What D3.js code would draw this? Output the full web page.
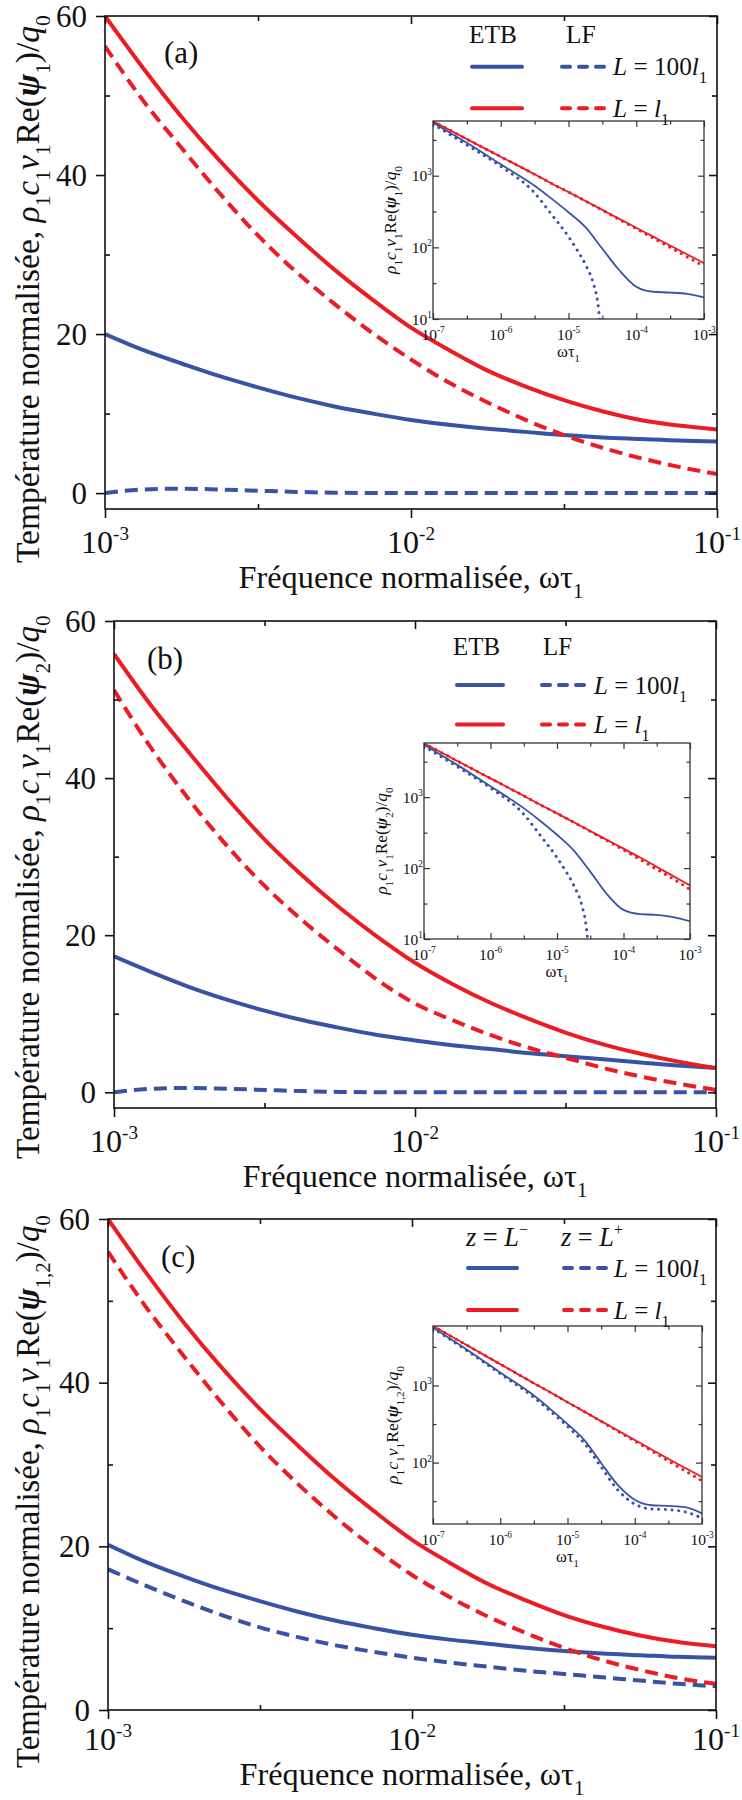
<!DOCTYPE html>
<html><head><meta charset="utf-8">
<script src="https://cdn.jsdelivr.net/npm/d3@7"></script>
<style>
body{margin:0;background:#fff}
svg{display:block}
text{font-family:"Liberation Serif","Times New Roman",serif;fill:#111}
</style>
</head><body>
<svg id="chart" width="742" height="1800"></svg>
<script>
// ---------------- DATA ----------------
// main panels: normalised frequency (omega*tau1)
const omega = [0.001,0.00133,0.00178,0.00237,0.00316,0.00422,0.00562,0.0075,0.01,0.0133,0.0178,0.0237,0.0316,0.0422,0.0562,0.075,0.1];
const xTickExps = [-3,-2,-1];
const yTicks = [0,20,40,60];
const yMinorTicks = [10,30,50];

// panel (a)  psi1
const aEtbL100 = [20.0,18.0,16.3,14.7,13.3,12.0,10.9,10.0,9.2,8.6,8.1,7.7,7.3,7.0,6.8,6.6,6.5];
const aEtbL1   = [60.0,53.5,47.3,41.8,36.8,32.3,28.1,24.3,20.8,18.0,15.4,13.4,11.7,10.3,9.2,8.5,8.0];
const aLfL100  = [0.0,0.45,0.55,0.45,0.3,0.15,0.05,0,0,0,0,0,0,0,0,0,0];
const aLfL1    = [56.2,49.4,43.4,37.7,32.4,27.8,23.8,20.1,16.8,13.9,11.4,9.2,7.3,5.7,4.4,3.3,2.4];
// panel (b)  psi2
const bEtbL100 = [17.3,15.3,13.4,11.8,10.4,9.2,8.2,7.3,6.6,6.0,5.5,5.0,4.6,4.2,3.8,3.4,3.1];
const bEtbL1   = [55.8,49.2,43.2,37.5,32.2,27.6,23.5,19.8,16.5,13.8,11.4,9.4,7.6,6.1,4.9,3.9,3.1];
const bLfL100  = [0.0,0.45,0.55,0.45,0.3,0.15,0.05,0,0,0,0,0,0,0,0,0,0];
const bLfL1    = [51.2,43.8,37.2,31.4,26.3,21.9,18.0,14.3,11.3,9.2,7.3,5.7,4.4,3.1,2.0,1.1,0.3];
// panel (c)  psi1,2 at z = L- and z = L+
const cMinusL100 = [20.2,18.1,16.3,14.7,13.3,12.0,10.9,10.0,9.2,8.6,8.1,7.6,7.2,6.9,6.7,6.5,6.4];
const cMinusL1   = [60.0,53.5,47.3,41.8,36.8,32.3,28.1,24.3,20.8,18.0,15.4,13.4,11.6,10.2,9.1,8.3,7.8];
const cPlusL100  = [17.2,15.2,13.3,11.6,10.1,8.9,7.9,7.1,6.4,5.8,5.3,4.8,4.4,4.0,3.6,3.2,2.9];
const cPlusL1    = [56.0,49.3,43.2,37.5,32.2,27.6,23.5,19.8,16.5,13.8,11.4,9.4,7.6,6.1,4.9,3.9,3.2];

// insets: log-log
const insetOmega   = [1e-7,3.16e-7,1e-6,3.16e-6,5.62e-6,1e-5,1.78e-5,3.16e-5,5.62e-5,1e-4,1.78e-4,3.16e-4,5.62e-4,1e-3];
const insetOmegaLF = [1e-7,3.16e-7,1e-6,3.16e-6,5.62e-6,1e-5,1.33e-5,1.78e-5,2.37e-5,2.69e-5,2.88e-5,3.02e-5];
const insetXTickExps = [-7,-6,-5,-4,-3];

const aInEtbL100 = [5500,2880,1445,725,479,309,191,95.5,47.9,28.2,24.0,23.4,22.4,20.0];
const aInEtbL1   = [5750,3240,1840,1045,780,590,443,333,250,188,141,106,80,60];
const aInLfL1    = [5750,3240,1840,1045,780,590,443,330,245,182,135,100,74,54];
const aInLfL100  = [5250,2690,1350,575,288,141,93,57.5,29.5,17.4,10,6.3];

const bInEtbL100 = [5500,2850,1420,700,462,295,178,89,43,25.7,22.4,21.9,20.4,17.8];
const bInEtbL1   = [5750,3240,1840,1045,780,590,443,333,250,188,141,104,77,57];
const bInLfL1    = [5750,3240,1840,1045,780,590,443,330,245,180,132,96,70,50];
const bInLfL100  = [5250,2690,1350,575,288,141,93,57.5,29.5,17.4,10,6.3];

const cInMinusL100 = [5600,2930,1470,740,490,316,196,99,51,33,28,27.5,26.5,22];
const cInMinusL1   = [5900,3340,1890,1070,810,607,458,345,260,196,148,112,85,65];
const cInPlusL1    = [5900,3340,1890,1070,810,607,458,342,255,190,142,105,78,58];
const cInPlusL100  = [5500,2850,1420,700,460,295,178,88,44,29,25,24.5,23,19];

// ---------------- STYLE ----------------
const BLUE = "#3953a4", RED = "#ec1c24";
const svg = d3.select("#chart");

function rich(sel, parts, size) {
  let shift = 0;
  parts.forEach(p => {
    const ts = sel.append("tspan").text(p.t);
    let target = 0, fs = size;
    if (p.sub) { target = size * 0.32; fs = size * 0.64; }
    if (p.sup) { target = -size * 0.42; fs = size * 0.6; }
    ts.attr("font-size", fs);
    if (target !== shift) { ts.attr("dy", target - shift); shift = target; }
    if (p.i) ts.attr("font-style", "italic");
    if (p.b) ts.attr("font-weight", "bold");
  });
}
// draw rich text with a font size chosen so that the rendered length equals `len`
function richFit(sel, parts, size, len) {
  rich(sel, parts, size);
  const cur = sel.node().getComputedTextLength();
  let s = size;
  if (cur > 0) { s = size * len / cur; sel.selectAll("tspan").remove(); rich(sel, parts, s); }
  return s;
}

function yLabelParts(psiSub) {
  return [
    {t:"Température normalisée, "},
    {t:"ρ", i:1},{t:"1", sub:1},
    {t:"c", i:1},{t:"1", sub:1},
    {t:"v", i:1},{t:"1", sub:1},
    {t:"Re("},{t:"ψ", i:1, b:1},{t:psiSub, sub:1},
    {t:")/"},{t:"q", i:1},{t:"0", sub:1}
  ];
}
function insetYParts(psiSub) {
  return [
    {t:"ρ", i:1},{t:"1", sub:1},
    {t:"c", i:1},{t:"1", sub:1},
    {t:"v", i:1},{t:"1", sub:1},
    {t:"Re("},{t:"ψ", i:1, b:1},{t:psiSub, sub:1},
    {t:")/"},{t:"q", i:1},{t:"0", sub:1}
  ];
}

let clipId = 0;
function drawPanel(cfg) {
  const g = svg.append("g");
  const x = d3.scaleLog().domain([1e-3, 1e-1]).range([cfg.l, cfg.r]);
  const y = d3.scaleLinear().domain(cfg.yDom).range([cfg.b, cfg.t]);
  const cid = "clip" + (clipId++);
  g.append("clipPath").attr("id", cid).append("rect")
    .attr("x", cfg.l).attr("y", cfg.t).attr("width", cfg.r - cfg.l).attr("height", cfg.b - cfg.t);

  const line = d3.line().x((d, i) => x(omega[i])).y(d => y(d)).curve(d3.curveMonotoneX);
  const cg = g.append("g").attr("clip-path", `url(#${cid})`);
  cfg.series.forEach(s => {
    cg.append("path").datum(s.v).attr("d", line)
      .attr("fill", "none").attr("stroke", s.c).attr("stroke-width", 4)
      .attr("stroke-dasharray", s.dash ? "13,7" : null);
  });

  drawInset(g, cfg.inset);

  g.append("rect").attr("x", cfg.l).attr("y", cfg.t).attr("width", cfg.r - cfg.l).attr("height", cfg.b - cfg.t)
    .attr("fill", "none").attr("stroke", "#111").attr("stroke-width", 1.6);

  const majorX = xTickExps.map(e => Math.pow(10, e));
  const minorX = [Math.pow(10, -2.5), Math.pow(10, -1.5)];
  const styleAxis = sel => { sel.select(".domain").remove(); sel.selectAll("line").attr("stroke", "#111").attr("stroke-width", 1.6); sel.selectAll("text").remove(); };

  g.append("g").attr("transform", `translate(${cfg.l},0)`).call(d3.axisLeft(y).tickValues(yTicks).tickSize(9)).call(styleAxis);
  g.append("g").attr("transform", `translate(${cfg.l},0)`).call(d3.axisRight(y).tickValues(yMinorTicks).tickSize(5)).call(styleAxis);
  g.append("g").attr("transform", `translate(${cfg.r},0)`).call(d3.axisLeft(y).tickValues(yTicks).tickSize(8)).call(styleAxis);
  g.append("g").attr("transform", `translate(${cfg.r},0)`).call(d3.axisLeft(y).tickValues(yMinorTicks).tickSize(5)).call(styleAxis);
  g.append("g").attr("transform", `translate(0,${cfg.b})`).call(d3.axisBottom(x).tickValues(majorX).tickSize(9)).call(styleAxis);
  g.append("g").attr("transform", `translate(0,${cfg.b})`).call(d3.axisTop(x).tickValues(minorX).tickSize(5)).call(styleAxis);
  g.append("g").attr("transform", `translate(0,${cfg.t})`).call(d3.axisBottom(x).tickValues(majorX).tickSize(8)).call(styleAxis);
  g.append("g").attr("transform", `translate(0,${cfg.t})`).call(d3.axisBottom(x).tickValues(minorX).tickSize(5)).call(styleAxis);

  yTicks.forEach(v => {
    g.append("text").attr("x", cfg.l - 18).attr("y", y(v) + 10.5).attr("text-anchor", "end")
      .attr("font-size", 31).text(v);
  });
  xTickExps.forEach(e => {
    const t = g.append("text").attr("x", x(Math.pow(10, e))).attr("y", cfg.b + cfg.xlOff).attr("text-anchor", "middle");
    rich(t, [{t:"10"},{t:String(e), sup:1}], 32);
  });
  const xt = g.append("text").attr("x", (cfg.l + cfg.r) / 2).attr("y", cfg.b + cfg.xtOff).attr("text-anchor", "middle");
  richFit(xt, [{t:"Fréquence normalisée, ωτ"},{t:"1", sub:1}], 31, 345);
  const yt = g.append("text").attr("text-anchor", "start")
    .attr("transform", `translate(39,${cfg.ylStart}) rotate(-90)`);
  richFit(yt, yLabelParts(cfg.psi), 31, cfg.ylLen);

  g.append("text").attr("x", cfg.letter[0]).attr("y", cfg.letter[1]).attr("font-size", 31).text(cfg.letter[2]);

  // legend
  const L = cfg.legend;
  const h1 = g.append("text").attr("x", L.h1x).attr("y", L.hy);
  const hs = richFit(h1, L.h1, 26, L.h1w);
  const h2 = g.append("text").attr("x", L.h2x).attr("y", L.hy);
  rich(h2, L.h2, hs);
  let ls = 28;
  L.rows.forEach((r, k) => {
    g.append("line").attr("x1", L.sx[0]).attr("x2", L.sx[1]).attr("y1", r.y).attr("y2", r.y)
      .attr("stroke", r.c).attr("stroke-width", 4).attr("stroke-linecap", "round");
    g.append("line").attr("x1", L.dx[0]).attr("x2", L.dx[1]).attr("y1", r.y).attr("y2", r.y)
      .attr("stroke", r.c).attr("stroke-width", 4).attr("stroke-linecap", "round").attr("stroke-dasharray", "8,9");
    const t = g.append("text").attr("x", L.tx).attr("y", r.y + 8.5);
    if (k === 0) ls = richFit(t, r.label, 28, L.tw);
    else rich(t, r.label, ls);
  });
}

function drawInset(g, ic) {
  const x = d3.scaleLog().domain([1e-7, 1e-3]).range([ic.l, ic.r]);
  const y = d3.scaleLog().domain(ic.yDom).range([ic.b, ic.t]);
  g.append("rect").attr("x", ic.l).attr("y", ic.t).attr("width", ic.r - ic.l).attr("height", ic.b - ic.t).attr("fill", "#fff");
  const cid = "clip" + (clipId++);
  g.append("clipPath").attr("id", cid).append("rect")
    .attr("x", ic.l).attr("y", ic.t).attr("width", ic.r - ic.l).attr("height", ic.b - ic.t);
  const cg = g.append("g").attr("clip-path", `url(#${cid})`);
  ic.series.forEach(s => {
    const xs = s.xs;
    const line = d3.line().x((d, i) => x(xs[i])).y(d => y(d)).curve(d3.curveMonotoneX);
    const p = cg.append("path").datum(s.v).attr("d", line).attr("fill", "none").attr("stroke", s.c);
    if (s.dot) p.attr("stroke-width", 3).attr("stroke-linecap", "round").attr("stroke-dasharray", "0.1,6.6");
    else p.attr("stroke-width", 1.8);
  });
  g.append("rect").attr("x", ic.l).attr("y", ic.t).attr("width", ic.r - ic.l).attr("height", ic.b - ic.t)
    .attr("fill", "none").attr("stroke", "#333").attr("stroke-width", 1.3);
  const majorX = insetXTickExps.map(e => Math.pow(10, e));
  const minorX = [-6.5,-5.5,-4.5,-3.5].map(e => Math.pow(10, e));
  const dec = [10,100,1000].filter(v => v >= ic.yDom[0] && v <= ic.yDom[1]);
  const minorY = [Math.pow(10,1.5),Math.pow(10,2.5),Math.pow(10,3.5)].filter(v => v >= ic.yDom[0] && v <= ic.yDom[1]);
  const st = sel => { sel.select(".domain").remove(); sel.selectAll("line").attr("stroke", "#333").attr("stroke-width", 1.2); sel.selectAll("text").remove(); };
  g.append("g").attr("transform", `translate(0,${ic.b})`).call(d3.axisTop(x).tickValues(majorX).tickSize(6)).call(st);
  g.append("g").attr("transform", `translate(0,${ic.b})`).call(d3.axisTop(x).tickValues(minorX).tickSize(3.5)).call(st);
  g.append("g").attr("transform", `translate(0,${ic.t})`).call(d3.axisBottom(x).tickValues(majorX).tickSize(6)).call(st);
  g.append("g").attr("transform", `translate(0,${ic.t})`).call(d3.axisBottom(x).tickValues(minorX).tickSize(3.5)).call(st);
  g.append("g").attr("transform", `translate(${ic.l},0)`).call(d3.axisRight(y).tickValues(dec).tickSize(6)).call(st);
  g.append("g").attr("transform", `translate(${ic.l},0)`).call(d3.axisRight(y).tickValues(minorY).tickSize(3.5)).call(st);
  g.append("g").attr("transform", `translate(${ic.r},0)`).call(d3.axisLeft(y).tickValues(dec).tickSize(6)).call(st);
  g.append("g").attr("transform", `translate(${ic.r},0)`).call(d3.axisLeft(y).tickValues(minorY).tickSize(3.5)).call(st);

  dec.forEach(v => {
    const t = g.append("text").attr("x", ic.l - 1).attr("y", y(v) + 5.5).attr("text-anchor", "end").attr("fill", "#222");
    rich(t, [{t:"10"},{t:String(Math.round(Math.log10(v))), sup:1}], 15.5);
  });
  insetXTickExps.forEach(e => {
    const t = g.append("text").attr("x", x(Math.pow(10, e))).attr("y", ic.b + 21).attr("text-anchor", "middle").attr("fill", "#222");
    rich(t, [{t:"10"},{t:String(e), sup:1}], 15.5);
  });
  const xt = g.append("text").attr("x", (ic.l + ic.r) / 2).attr("y", ic.b + 38).attr("text-anchor", "middle").attr("fill", "#222");
  rich(xt, [{t:"ωτ"},{t:"1", sub:1}], 16.5);
  const yt = g.append("text").attr("text-anchor", "middle").attr("fill", "#222")
    .attr("transform", `translate(${ic.yl},${(ic.t + ic.b) / 2}) rotate(-90)`);
  richFit(yt, insetYParts(ic.psi), 15, ic.ylLen);
}

function legendRows(y1, y2) {
  return [
    {y:y1, c:BLUE, label:[{t:"L", i:1},{t:" = 100"},{t:"l", i:1},{t:"1", sub:1}]},
    {y:y2, c:RED,  label:[{t:"L", i:1},{t:" = "},{t:"l", i:1},{t:"1", sub:1}]}
  ];
}

// panel (a)
drawPanel({
  l:105, r:717, t:16, b:509, yDom:[-2,60], psi:"1", ylStart:563, ylLen:548, xlOff:44, xtOff:79,
  letter:[164, 63, "(a)"],
  series:[
    {v:aEtbL100, c:BLUE}, {v:aLfL100, c:BLUE, dash:1},
    {v:aLfL1, c:RED, dash:1}, {v:aEtbL1, c:RED}
  ],
  legend:{h1x:469, h2x:566, hy:43, h1:[{t:"ETB"}], h2:[{t:"LF"}], h1w:48, sx:[472,522], dx:[562,604], tx:613, tw:94, rows:legendRows(66.7,108.3)},
  inset:{l:433, r:704, t:121, b:319, yDom:[10,5800], psi:"1", yl:396, ylLen:108,
    series:[
      {xs:insetOmega, v:aInLfL1, c:RED, dot:1},
      {xs:insetOmega, v:aInEtbL1, c:RED},
      {xs:insetOmegaLF, v:aInLfL100, c:BLUE, dot:1},
      {xs:insetOmega, v:aInEtbL100, c:BLUE}
    ]}
});

// panel (b)
drawPanel({
  l:114, r:716, t:621, b:1108, yDom:[-2,60], psi:"2", ylStart:1159, ylLen:544, xlOff:44, xtOff:79,
  letter:[147, 669, "(b)"],
  series:[
    {v:bEtbL100, c:BLUE}, {v:bLfL100, c:BLUE, dash:1},
    {v:bLfL1, c:RED, dash:1}, {v:bEtbL1, c:RED}
  ],
  legend:{h1x:453, h2x:543, hy:655, h1:[{t:"ETB"}], h2:[{t:"LF"}], h1w:47, sx:[457,503], dx:[542,584], tx:594, tw:93, rows:legendRows(685,724.4)},
  inset:{l:424, r:690, t:743, b:939, yDom:[10,5800], psi:"2", yl:387, ylLen:107,
    series:[
      {xs:insetOmega, v:bInLfL1, c:RED, dot:1},
      {xs:insetOmega, v:bInEtbL1, c:RED},
      {xs:insetOmegaLF, v:bInLfL100, c:BLUE, dot:1},
      {xs:insetOmega, v:bInEtbL100, c:BLUE}
    ]}
});

// panel (c)
drawPanel({
  l:108, r:716, t:1219, b:1710, yDom:[0,60], psi:"1,2", ylStart:1768, ylLen:553, xlOff:40, xtOff:75,
  letter:[161, 1267, "(c)"],
  series:[
    {v:cMinusL100, c:BLUE}, {v:cPlusL100, c:BLUE, dash:1},
    {v:cPlusL1, c:RED, dash:1}, {v:cMinusL1, c:RED}
  ],
  legend:{h1x:466, h2x:561, hy:1246,
    h1:[{t:"z", i:1},{t:" = "},{t:"L", i:1},{t:"−", sup:1}],
    h2:[{t:"z", i:1},{t:" = "},{t:"L", i:1},{t:"+", sup:1}], h1w:62,
    sx:[468,517], dx:[564,606], tx:614, tw:93, rows:legendRows(1268,1310)},
  inset:{l:433, r:702, t:1326, b:1524, yDom:[16,5900], psi:"1,2", yl:398, ylLen:118,
    series:[
      {xs:insetOmega, v:cInPlusL1, c:RED, dot:1},
      {xs:insetOmega, v:cInMinusL1, c:RED},
      {xs:insetOmega, v:cInPlusL100, c:BLUE, dot:1},
      {xs:insetOmega, v:cInMinusL100, c:BLUE}
    ]}
});
</script>
</body></html>
